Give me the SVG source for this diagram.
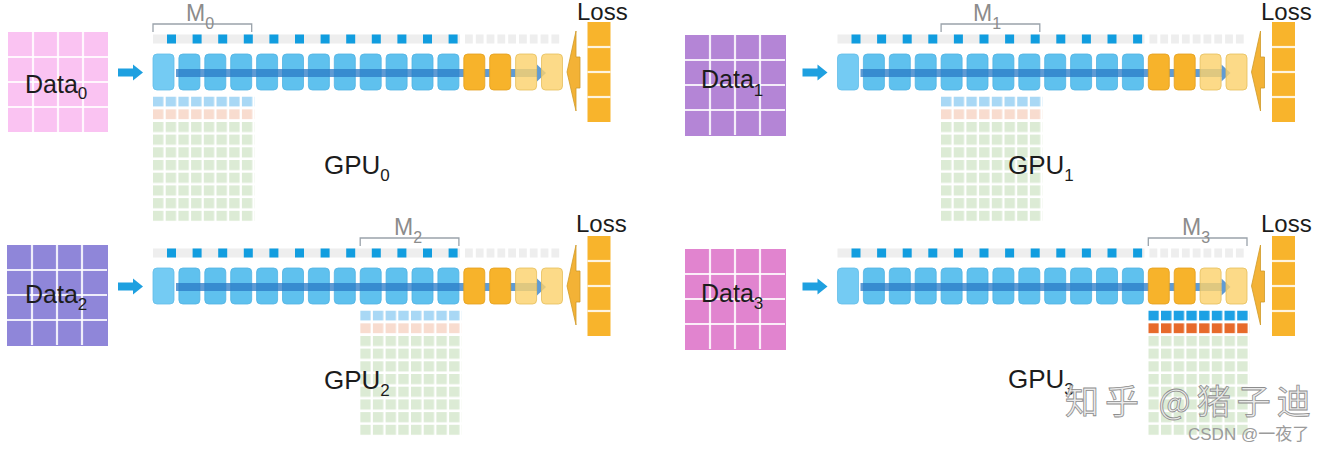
<svg xmlns="http://www.w3.org/2000/svg" xmlns:xlink="http://www.w3.org/1999/xlink" width="1331" height="452" viewBox="0 0 1331 452">
<style>
.lbl{font-family:"Liberation Sans",Arial,sans-serif;fill:#1c1c1c}
.m{font-family:"Liberation Sans",Arial,sans-serif;fill:#8c8c8c;font-size:23px}
.brk{fill:none;stroke:#9aa3ab;stroke-width:1.3}
.bb{fill:#5fc1ee;stroke:#52b2e2;stroke-width:0.8}
.bb0{fill:#74cbf3;stroke:#62bde9;stroke-width:0.8}
.ob{fill:#f7b32b;stroke:#e3a01e;stroke-width:0.8}
.yb{fill:#fbd26e;fill-opacity:0.82;stroke:#e6bf5c;stroke-width:0.8}
.band{fill:#2a79c5;fill-opacity:0.75}
.inarrow{fill:#1ea0e0}
.back{fill:#f3b236;stroke:#cf9a2a;stroke-width:0.8}
.sep{stroke:#ffffff;stroke-width:2.2;stroke-opacity:0.85}
</style>
<defs>
<pattern id="pGreen" x="0" y="0" width="12.7" height="12.7" patternUnits="userSpaceOnUse"><rect width="10.4" height="10.2" fill="#dcebd5"/></pattern>
<pattern id="pBlueP" x="0" y="0" width="12.7" height="12.7" patternUnits="userSpaceOnUse"><rect width="10.4" height="10.2" fill="#a9d8f5"/></pattern>
<pattern id="pSalP" x="0" y="0" width="12.7" height="12.7" patternUnits="userSpaceOnUse"><rect width="10.4" height="10.2" fill="#f8dccf"/></pattern>
<pattern id="pBlueS" x="0" y="0" width="12.7" height="12.7" patternUnits="userSpaceOnUse"><rect width="10.4" height="10.2" fill="#1da1e4"/></pattern>
<pattern id="pOrS" x="0" y="0" width="12.7" height="12.7" patternUnits="userSpaceOnUse"><rect width="10.4" height="10.2" fill="#e76a2b"/></pattern>
<g id="sqRow">
<rect x="153" y="34.5" width="307" height="9" fill="#eeeeee"/>
<g fill="#119ddf">
<rect x="167" y="34.5" width="9" height="9"/><rect x="192.6" y="34.5" width="9" height="9"/><rect x="218.2" y="34.5" width="9" height="9"/><rect x="243.8" y="34.5" width="9" height="9"/><rect x="269.4" y="34.5" width="9" height="9"/><rect x="295" y="34.5" width="9" height="9"/><rect x="320.6" y="34.5" width="9" height="9"/><rect x="346.2" y="34.5" width="9" height="9"/><rect x="371.8" y="34.5" width="9" height="9"/><rect x="397.4" y="34.5" width="9" height="9"/><rect x="423" y="34.5" width="9" height="9"/><rect x="448.6" y="34.5" width="9" height="9"/>
</g>
<g fill="#eeeeee">
<rect x="465" y="34.5" width="7.8" height="9"/><rect x="475.8" y="34.5" width="7.8" height="9"/><rect x="486.6" y="34.5" width="7.8" height="9"/><rect x="497.4" y="34.5" width="7.8" height="9"/><rect x="508.2" y="34.5" width="7.8" height="9"/><rect x="519" y="34.5" width="7.8" height="9"/><rect x="529.8" y="34.5" width="7.8" height="9"/><rect x="540.6" y="34.5" width="7.8" height="9"/><rect x="551.4" y="34.5" width="7.8" height="9"/>
</g>
</g>
<g id="blueBoxes">
<rect class="bb0" x="153" y="54" width="21" height="36" rx="4"/>
<rect class="bb" x="178.9" y="54" width="21" height="36" rx="4"/><rect class="bb" x="204.8" y="54" width="21" height="36" rx="4"/><rect class="bb" x="230.7" y="54" width="21" height="36" rx="4"/><rect class="bb" x="256.6" y="54" width="21" height="36" rx="4"/><rect class="bb" x="282.5" y="54" width="21" height="36" rx="4"/><rect class="bb" x="308.4" y="54" width="21" height="36" rx="4"/><rect class="bb" x="334.3" y="54" width="21" height="36" rx="4"/><rect class="bb" x="360.2" y="54" width="21" height="36" rx="4"/><rect class="bb" x="386.1" y="54" width="21" height="36" rx="4"/><rect class="bb" x="412" y="54" width="21" height="36" rx="4"/><rect class="bb" x="437.9" y="54" width="21" height="36" rx="4"/>
</g>
<g id="warmBoxes">
<rect class="ob" x="463.8" y="54" width="21" height="36" rx="4"/><rect class="ob" x="489.7" y="54" width="21" height="36" rx="4"/>
<rect class="yb" x="515.6" y="54" width="21" height="36" rx="4"/><rect class="yb" x="541.5" y="54" width="21" height="36" rx="4"/>
</g>
<g id="band"><rect class="band" x="176" y="69" width="361" height="8"/><polygon class="band" points="537,64.5 546,73 537,81.5"/></g>
<g id="inArrow"><polygon class="inarrow" points="118,68.5 133,68.5 133,64.5 143,72.5 133,80.5 133,76.5 118,76.5"/></g>
<g id="backArrow"><polygon class="back" points="567,72 576,31 576,57 580,57 580,88 576,88 576,111"/></g>
<g id="lossCol"><rect x="587.5" y="22" width="23" height="100" fill="#f8b42c"/><line class="sep" x1="587.5" y1="47" x2="610.5" y2="47"/><line class="sep" x1="587.5" y1="72" x2="610.5" y2="72"/><line class="sep" x1="587.5" y1="97" x2="610.5" y2="97"/></g>
<g id="gridPale"><rect x="0" y="0" width="101.6" height="10.2" fill="url(#pBlueP)"/><rect x="0" y="12.7" width="101.6" height="10.2" fill="url(#pSalP)"/><rect x="0" y="25.4" width="101.6" height="99.2" fill="url(#pGreen)"/></g>
<g id="gridStrong"><rect x="0" y="0" width="101.6" height="10.2" fill="url(#pBlueS)"/><rect x="0" y="12.7" width="101.6" height="10.2" fill="url(#pOrS)"/><rect x="0" y="25.4" width="101.6" height="99.2" fill="url(#pGreen)"/></g>
<g id="dgLines"><line class="sep" x1="25" y1="0" x2="25" y2="100"/><line class="sep" x1="50" y1="0" x2="50" y2="100"/><line class="sep" x1="75" y1="0" x2="75" y2="100"/><line class="sep" x1="0" y1="25" x2="100" y2="25"/><line class="sep" x1="0" y1="50" x2="100" y2="50"/><line class="sep" x1="0" y1="75" x2="100" y2="75"/></g>
</defs>
<rect width="1331" height="452" fill="#ffffff"/>

<g id="data0"><rect x="8" y="32" width="100" height="100" fill="#fac3f2"/><use xlink:href="#dgLines" transform="translate(8,32)"/><text class="lbl" x="25" y="93" font-size="25">Data<tspan font-size="17" dy="6">0</tspan></text></g>
<g id="data1"><rect x="685" y="35" width="101" height="101" fill="#b485d6"/><use xlink:href="#dgLines" transform="translate(685,35)"/><text class="lbl" x="701" y="88" font-size="25">Data<tspan font-size="17" dy="8">1</tspan></text></g>
<g id="data2"><rect x="7" y="245" width="101" height="101" fill="#8f86d9"/><use xlink:href="#dgLines" transform="translate(7,245)"/><text class="lbl" x="25" y="303" font-size="25">Data<tspan font-size="17" dy="7">2</tspan></text></g>
<g id="data3"><rect x="685" y="249" width="101" height="101" fill="#e184cf"/><use xlink:href="#dgLines" transform="translate(685,249)"/><text class="lbl" x="701" y="302" font-size="25">Data<tspan font-size="17" dy="7">3</tspan></text></g>

<g id="gpu0-layers"><use xlink:href="#sqRow"/><use xlink:href="#blueBoxes"/></g>
<g id="gpu1-layers" transform="translate(684.5,0)"><use xlink:href="#sqRow"/><use xlink:href="#blueBoxes"/></g>
<g id="gpu2-layers" transform="translate(0,214)"><use xlink:href="#sqRow"/><use xlink:href="#blueBoxes"/></g>
<g id="gpu3-layers" transform="translate(684.5,214)"><use xlink:href="#sqRow"/><use xlink:href="#blueBoxes"/></g>

<g id="connectors">
<use xlink:href="#inArrow"/><use xlink:href="#inArrow" transform="translate(684.5,0)"/><use xlink:href="#inArrow" transform="translate(0,214)"/><use xlink:href="#inArrow" transform="translate(684.5,214)"/>
<use xlink:href="#band"/><use xlink:href="#band" transform="translate(684.5,0)"/><use xlink:href="#band" transform="translate(0,214)"/><use xlink:href="#band" transform="translate(684.5,214)"/>
<use xlink:href="#backArrow"/><use xlink:href="#backArrow" transform="translate(684.5,0)"/><use xlink:href="#backArrow" transform="translate(0,214)"/><use xlink:href="#backArrow" transform="translate(684.5,214)"/>
</g>

<g id="gpu0-head"><use xlink:href="#warmBoxes"/></g>
<g id="gpu1-head" transform="translate(684.5,0)"><use xlink:href="#warmBoxes"/></g>
<g id="gpu2-head" transform="translate(0,214)"><use xlink:href="#warmBoxes"/></g>
<g id="gpu3-head" transform="translate(684.5,214)"><use xlink:href="#warmBoxes"/></g>

<g id="loss0"><use xlink:href="#lossCol"/><text class="lbl" x="577" y="19.5" font-size="24">Loss</text></g>
<g id="loss1"><use xlink:href="#lossCol" transform="translate(684.5,0)"/><text class="lbl" x="1261" y="19.5" font-size="24">Loss</text></g>
<g id="loss2"><use xlink:href="#lossCol" transform="translate(0,214)"/><text class="lbl" x="576" y="232" font-size="24">Loss</text></g>
<g id="loss3"><use xlink:href="#lossCol" transform="translate(684.5,214)"/><text class="lbl" x="1261" y="232" font-size="24">Loss</text></g>

<g id="mem0"><use xlink:href="#gridPale" transform="translate(153,96.5)"/><path class="brk" d="M153,32 V24 H251.7 V32"/><text class="m" x="186" y="21">M<tspan font-size="16" dy="8">0</tspan></text></g>
<g id="mem1"><use xlink:href="#gridPale" transform="translate(941,96.5)"/><path class="brk" d="M941.1,32 V24 H1039.8 V32"/><text class="m" x="973" y="21">M<tspan font-size="16" dy="8">1</tspan></text></g>
<g id="mem2"><use xlink:href="#gridPale" transform="translate(360.2,310.5)"/><path class="brk" d="M360.2,246 V238 H458.9 V246"/><text class="m" x="394" y="235">M<tspan font-size="16" dy="8">2</tspan></text></g>
<g id="mem3"><use xlink:href="#gridStrong" transform="translate(1148.3,310.5)"/><path class="brk" d="M1148.3,246 V238 H1247 V246"/><text class="m" x="1182" y="235">M<tspan font-size="16" dy="8">3</tspan></text></g>

<g id="gpu0-label"><text class="lbl" x="324" y="174" font-size="26">GPU<tspan font-size="17" dy="7">0</tspan></text></g>
<g id="gpu1-label"><text class="lbl" x="1008" y="174" font-size="26">GPU<tspan font-size="17" dy="7">1</tspan></text></g>
<g id="gpu2-label"><text class="lbl" x="324" y="389" font-size="26">GPU<tspan font-size="17" dy="7">2</tspan></text></g>
<g id="gpu3-label"><text class="lbl" x="1008" y="388" font-size="26">GPU<tspan font-size="17" dy="7">3</tspan></text></g>

<g id="watermark">
<text x="1065" y="414" font-family="Noto Sans CJK SC, sans-serif" font-size="34" letter-spacing="6" fill="#e9e9e9" fill-opacity="0.9" stroke="#8d8d8d" stroke-width="0.8">知乎 @猪子迪</text>
<text x="1188" y="440" font-family="Liberation Sans, Noto Sans CJK SC, sans-serif" font-size="17" fill="#9b9b9b">CSDN @一夜了</text>
</g>
</svg>
